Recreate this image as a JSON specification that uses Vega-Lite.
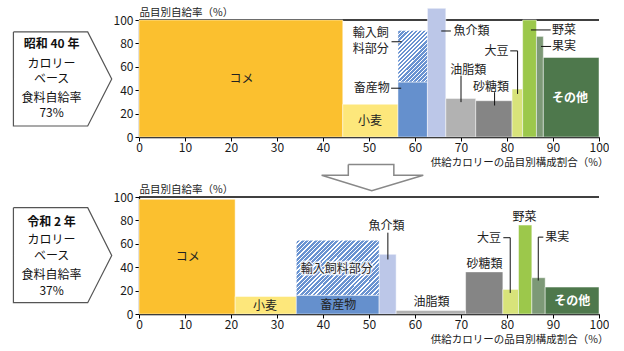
{
  "$schema": "https://vega.github.io/schema/vega-lite/v6.json",
  "background": "white",
  "padding": {"left": 11, "top": 7, "right": 0, "bottom": 0},
  "datasets": {
    "bars": [
      {"panel": "top", "item": "コメ", "x0": 0, "x1": 44.3, "y0": 0, "y1": 100},
      {"panel": "top", "item": "小麦", "x0": 44.3, "x1": 56.3, "y0": 0, "y1": 28},
      {"panel": "top", "item": "畜産物", "x0": 56.3, "x1": 62.7, "y0": 0, "y1": 47},
      {"panel": "top", "item": "輸入飼料", "x0": 56.3, "x1": 62.7, "y0": 47, "y1": 91},
      {"panel": "top", "item": "魚介類", "x0": 62.7, "x1": 66.7, "y0": 0, "y1": 110},
      {"panel": "top", "item": "油脂類", "x0": 66.7, "x1": 73.2, "y0": 0, "y1": 33},
      {"panel": "top", "item": "砂糖類", "x0": 73.2, "x1": 81.1, "y0": 0, "y1": 31},
      {"panel": "top", "item": "大豆", "x0": 81.1, "x1": 83.4, "y0": 0, "y1": 41},
      {"panel": "top", "item": "野菜", "x0": 83.4, "x1": 86.4, "y0": 0, "y1": 100},
      {"panel": "top", "item": "果実", "x0": 86.4, "x1": 87.9, "y0": 0, "y1": 86},
      {"panel": "top", "item": "その他", "x0": 87.9, "x1": 100, "y0": 0, "y1": 68},
      {"panel": "bottom", "item": "コメ", "x0": 0, "x1": 20.9, "y0": 0, "y1": 98},
      {"panel": "bottom", "item": "小麦", "x0": 20.9, "x1": 34.2, "y0": 0, "y1": 15},
      {"panel": "bottom", "item": "畜産物", "x0": 34.2, "x1": 52.2, "y0": 0, "y1": 16},
      {"panel": "bottom", "item": "輸入飼料", "x0": 34.2, "x1": 52.2, "y0": 16, "y1": 63},
      {"panel": "bottom", "item": "魚介類", "x0": 52.2, "x1": 55.9, "y0": 0, "y1": 51},
      {"panel": "bottom", "item": "油脂類", "x0": 55.9, "x1": 71.0, "y0": 0, "y1": 3},
      {"panel": "bottom", "item": "砂糖類", "x0": 71.0, "x1": 79.1, "y0": 0, "y1": 36},
      {"panel": "bottom", "item": "大豆", "x0": 79.1, "x1": 82.5, "y0": 0, "y1": 21},
      {"panel": "bottom", "item": "野菜", "x0": 82.5, "x1": 85.4, "y0": 0, "y1": 76},
      {"panel": "bottom", "item": "果実", "x0": 85.4, "x1": 88.3, "y0": 0, "y1": 31},
      {"panel": "bottom", "item": "その他", "x0": 88.3, "x1": 100, "y0": 0, "y1": 23}
    ],
    "labels": [
      {"panel": "top", "label": "コメ", "x": 22.3, "y": 49.6},
      {"panel": "top", "label": "小麦", "x": 50.2, "y": 13.3},
      {"panel": "top", "label": "畜産物", "x": 50.6, "y": 41.7},
      {"panel": "top", "label": "輸入飼", "x": 50.4, "y": 89.3},
      {"panel": "top", "label": "料部分", "x": 50.4, "y": 75.1},
      {"panel": "top", "label": "魚介類", "x": 72.3, "y": 90.6},
      {"panel": "top", "label": "油脂類", "x": 71.6, "y": 57.5},
      {"panel": "top", "label": "砂糖類", "x": 76.5, "y": 43},
      {"panel": "top", "label": "大豆", "x": 77.7, "y": 73.6},
      {"panel": "top", "label": "野菜", "x": 92.4, "y": 91.5},
      {"panel": "top", "label": "果実", "x": 92.4, "y": 77.4},
      {"panel": "top", "label": "その他", "x": 93.7, "y": 33.4},
      {"panel": "bottom", "label": "コメ", "x": 10.6, "y": 48.6},
      {"panel": "bottom", "label": "小麦", "x": 27.4, "y": 7.1},
      {"panel": "bottom", "label": "畜産物", "x": 43.3, "y": 7.4},
      {"panel": "bottom", "label": "輸入飼料部分", "x": 43, "y": 38.8},
      {"panel": "bottom", "label": "魚介類", "x": 53.8, "y": 75.1},
      {"panel": "bottom", "label": "油脂類", "x": 63.6, "y": 10},
      {"panel": "bottom", "label": "砂糖類", "x": 75.1, "y": 42.9},
      {"panel": "bottom", "label": "大豆", "x": 76.1, "y": 65.2},
      {"panel": "bottom", "label": "野菜", "x": 83.8, "y": 82.8},
      {"panel": "bottom", "label": "果実", "x": 90.9, "y": 65.7},
      {"panel": "bottom", "label": "その他", "x": 94.2, "y": 10.8}
    ],
    "leaders": [
      {"panel": "top", "id": "t1", "seq": 1, "x": 54.8, "y": 41.7},
      {"panel": "top", "id": "t1", "seq": 2, "x": 57.0, "y": 41.7},
      {"panel": "top", "id": "t2", "seq": 1, "x": 54.9, "y": 81.4},
      {"panel": "top", "id": "t2", "seq": 2, "x": 57.1, "y": 81.4},
      {"panel": "top", "id": "t3", "seq": 1, "x": 65.7, "y": 90.6},
      {"panel": "top", "id": "t3", "seq": 2, "x": 67.8, "y": 90.6},
      {"panel": "top", "id": "t4", "seq": 1, "x": 70.0, "y": 52.4},
      {"panel": "top", "id": "t4", "seq": 2, "x": 70.0, "y": 29.8},
      {"panel": "top", "id": "t5", "seq": 1, "x": 77.3, "y": 38.3},
      {"panel": "top", "id": "t5", "seq": 2, "x": 77.3, "y": 26.9},
      {"panel": "top", "id": "t6", "seq": 1, "x": 80.7, "y": 73.6},
      {"panel": "top", "id": "t6", "seq": 2, "x": 82.3, "y": 73.6},
      {"panel": "top", "id": "t6", "seq": 3, "x": 82.3, "y": 36.8},
      {"panel": "top", "id": "t7", "seq": 1, "x": 85.2, "y": 91.5},
      {"panel": "top", "id": "t7", "seq": 2, "x": 89.5, "y": 91.5},
      {"panel": "top", "id": "t8", "seq": 1, "x": 87.4, "y": 77.4},
      {"panel": "top", "id": "t8", "seq": 2, "x": 89.6, "y": 77.4},
      {"panel": "bottom", "id": "b1", "seq": 1, "x": 54.1, "y": 69.5},
      {"panel": "bottom", "id": "b1", "seq": 2, "x": 54.1, "y": 46.6},
      {"panel": "bottom", "id": "b2", "seq": 1, "x": 79.2, "y": 65.2},
      {"panel": "bottom", "id": "b2", "seq": 2, "x": 80.7, "y": 65.2},
      {"panel": "bottom", "id": "b2", "seq": 3, "x": 80.7, "y": 18},
      {"panel": "bottom", "id": "b3", "seq": 1, "x": 87.9, "y": 65.7},
      {"panel": "bottom", "id": "b3", "seq": 2, "x": 86.8, "y": 65.7},
      {"panel": "bottom", "id": "b3", "seq": 3, "x": 86.8, "y": 28.6}
    ],
    "boxes": [
      {"panel": "top", "seq": 1, "x": -27.3, "y": 89.8},
      {"panel": "top", "seq": 2, "x": -11.15, "y": 89.8},
      {"panel": "top", "seq": 3, "x": -5.93, "y": 49.6},
      {"panel": "top", "seq": 4, "x": -11.15, "y": 9.4},
      {"panel": "top", "seq": 5, "x": -27.3, "y": 9.4},
      {"panel": "top", "seq": 6, "x": -27.3, "y": 89.8},
      {"panel": "bottom", "seq": 1, "x": -27.3, "y": 90.9},
      {"panel": "bottom", "seq": 2, "x": -11.15, "y": 90.9},
      {"panel": "bottom", "seq": 3, "x": -5.93, "y": 50},
      {"panel": "bottom", "seq": 4, "x": -11.15, "y": 9.7},
      {"panel": "bottom", "seq": 5, "x": -27.3, "y": 9.7},
      {"panel": "bottom", "seq": 6, "x": -27.3, "y": 90.9}
    ],
    "boxtext": [
      {"panel": "top", "kind": "title", "text": "昭和 40 年", "x": -19, "y": 79.3},
      {"panel": "top", "kind": "body", "text": "カロリー", "x": -19, "y": 62.3},
      {"panel": "top", "kind": "body", "text": "ベース", "x": -19, "y": 49.6},
      {"panel": "top", "kind": "body", "text": "食料自給率", "x": -19, "y": 33.4},
      {"panel": "top", "kind": "body", "text": "73%", "x": -19, "y": 20.7},
      {"panel": "bottom", "kind": "title", "text": "令和 2 年", "x": -19, "y": 78.6},
      {"panel": "bottom", "kind": "body", "text": "カロリー", "x": -19, "y": 62.9},
      {"panel": "bottom", "kind": "body", "text": "ベース", "x": -19, "y": 50},
      {"panel": "bottom", "kind": "body", "text": "食料自給率", "x": -19, "y": 33.7},
      {"panel": "bottom", "kind": "body", "text": "37%", "x": -19, "y": 19.4}
    ],
    "arrow": [
      {"seq": 1, "x": 45.5, "y": -23.6},
      {"seq": 2, "x": 55.4, "y": -23.6},
      {"seq": 3, "x": 55.4, "y": -32.7},
      {"seq": 4, "x": 61.8, "y": -32.7},
      {"seq": 5, "x": 50.6, "y": -45.9},
      {"seq": 6, "x": 39.7, "y": -32.7},
      {"seq": 7, "x": 45.5, "y": -32.7},
      {"seq": 8, "x": 45.5, "y": -23.6}
    ]
  },
  "spacing": 60,
  "bounds": "flush",
  "vconcat": [
    {
      "width": 460,
      "height": 117,
      "layer": [
        {
          "data": {"values": [{}]},
          "mark": {"type": "rule", "color": "#000000", "strokeWidth": 1.3},
          "encoding": {"y": {"datum": 100, "type": "quantitative", "scale": {"domain": [0, 100], "nice": false}}}
        },
        {
          "data": {"name": "bars"},
          "transform": [{"filter": "datum.panel === 'top' && datum.item !== '輸入飼料'"}],
          "mark": {"type": "rect", "stroke": "#ffffff", "strokeWidth": 0.8, "strokeOpacity": 0.6},
          "encoding": {
            "x": {"field": "x0", "type": "quantitative", "scale": {"domain": [0, 100], "nice": false},
              "axis": {"values": [0, 10, 20, 30, 40, 50, 60, 70, 80, 90, 100], "tickCount": 11, "title": "供給カロリーの品目別構成割合（%）", "titleX": 469, "titleY": 25, "titleAlign": "right", "titleBaseline": "middle", "labelPadding": 1, "labelFlush": false, "labelOverlap": false}},
            "x2": {"field": "x1"},
            "y": {"field": "y1", "type": "quantitative", "scale": {"domain": [0, 100], "nice": false},
              "axis": {"values": [0, 20, 40, 60, 80, 100], "tickCount": 6, "title": "品目別自給率（%）", "titleAngle": 0, "titleX": 0, "titleY": -8, "titleAlign": "left", "titleBaseline": "middle", "labelPadding": 2, "labelFlush": false, "labelOverlap": false}},
            "y2": {"field": "y0"},
            "color": {"field": "item", "type": "nominal", "legend": null,
              "scale": {"domain": ["コメ", "小麦", "畜産物", "魚介類", "油脂類", "砂糖類", "大豆", "野菜", "果実", "その他"],
                "range": ["#FBC02F", "#FDE77B", "#6590CD", "#BCC7E8", "#B2B2B2", "#858585", "#D8E37A", "#9CC84B", "#7D9977", "#4E784C"]}}
          }
        },
        {
          "data": {"name": "bars"},
          "transform": [{"filter": "datum.panel === 'top' && datum.item === '輸入飼料'"}],
          "mark": {"type": "rect", "stroke": "#ffffff", "strokeWidth": 0.8, "strokeOpacity": 0.6,
            "fill": {"gradient": "linear", "x1": 0, "y1": 0, "x2": 0.674, "y2": 1.185, "stops": [
              {"offset": 0, "color": "#ffffff"}, {"offset": 0.017, "color": "#ffffff"}, {"offset": 0.017, "color": "#6A93D1"}, {"offset": 0.05, "color": "#6A93D1"},
              {"offset": 0.05, "color": "#ffffff"}, {"offset": 0.067, "color": "#ffffff"}, {"offset": 0.067, "color": "#6A93D1"}, {"offset": 0.1, "color": "#6A93D1"},
              {"offset": 0.1, "color": "#ffffff"}, {"offset": 0.117, "color": "#ffffff"}, {"offset": 0.117, "color": "#6A93D1"}, {"offset": 0.15, "color": "#6A93D1"},
              {"offset": 0.15, "color": "#ffffff"}, {"offset": 0.167, "color": "#ffffff"}, {"offset": 0.167, "color": "#6A93D1"}, {"offset": 0.2, "color": "#6A93D1"},
              {"offset": 0.2, "color": "#ffffff"}, {"offset": 0.217, "color": "#ffffff"}, {"offset": 0.217, "color": "#6A93D1"}, {"offset": 0.25, "color": "#6A93D1"},
              {"offset": 0.25, "color": "#ffffff"}, {"offset": 0.267, "color": "#ffffff"}, {"offset": 0.267, "color": "#6A93D1"}, {"offset": 0.3, "color": "#6A93D1"},
              {"offset": 0.3, "color": "#ffffff"}, {"offset": 0.317, "color": "#ffffff"}, {"offset": 0.317, "color": "#6A93D1"}, {"offset": 0.35, "color": "#6A93D1"},
              {"offset": 0.35, "color": "#ffffff"}, {"offset": 0.367, "color": "#ffffff"}, {"offset": 0.367, "color": "#6A93D1"}, {"offset": 0.4, "color": "#6A93D1"},
              {"offset": 0.4, "color": "#ffffff"}, {"offset": 0.417, "color": "#ffffff"}, {"offset": 0.417, "color": "#6A93D1"}, {"offset": 0.45, "color": "#6A93D1"},
              {"offset": 0.45, "color": "#ffffff"}, {"offset": 0.467, "color": "#ffffff"}, {"offset": 0.467, "color": "#6A93D1"}, {"offset": 0.5, "color": "#6A93D1"},
              {"offset": 0.5, "color": "#ffffff"}, {"offset": 0.517, "color": "#ffffff"}, {"offset": 0.517, "color": "#6A93D1"}, {"offset": 0.55, "color": "#6A93D1"},
              {"offset": 0.55, "color": "#ffffff"}, {"offset": 0.567, "color": "#ffffff"}, {"offset": 0.567, "color": "#6A93D1"}, {"offset": 0.6, "color": "#6A93D1"},
              {"offset": 0.6, "color": "#ffffff"}, {"offset": 0.617, "color": "#ffffff"}, {"offset": 0.617, "color": "#6A93D1"}, {"offset": 0.65, "color": "#6A93D1"},
              {"offset": 0.65, "color": "#ffffff"}, {"offset": 0.667, "color": "#ffffff"}, {"offset": 0.667, "color": "#6A93D1"}, {"offset": 0.7, "color": "#6A93D1"},
              {"offset": 0.7, "color": "#ffffff"}, {"offset": 0.717, "color": "#ffffff"}, {"offset": 0.717, "color": "#6A93D1"}, {"offset": 0.75, "color": "#6A93D1"},
              {"offset": 0.75, "color": "#ffffff"}, {"offset": 0.767, "color": "#ffffff"}, {"offset": 0.767, "color": "#6A93D1"}, {"offset": 0.8, "color": "#6A93D1"},
              {"offset": 0.8, "color": "#ffffff"}, {"offset": 0.817, "color": "#ffffff"}, {"offset": 0.817, "color": "#6A93D1"}, {"offset": 0.85, "color": "#6A93D1"},
              {"offset": 0.85, "color": "#ffffff"}, {"offset": 0.867, "color": "#ffffff"}, {"offset": 0.867, "color": "#6A93D1"}, {"offset": 0.9, "color": "#6A93D1"},
              {"offset": 0.9, "color": "#ffffff"}, {"offset": 0.917, "color": "#ffffff"}, {"offset": 0.917, "color": "#6A93D1"}, {"offset": 0.95, "color": "#6A93D1"},
              {"offset": 0.95, "color": "#ffffff"}, {"offset": 0.967, "color": "#ffffff"}, {"offset": 0.967, "color": "#6A93D1"}, {"offset": 1, "color": "#6A93D1"}
            ]}},
          "encoding": {
            "x": {"field": "x0", "type": "quantitative", "scale": {"domain": [0, 100], "nice": false}},
            "x2": {"field": "x1"},
            "y": {"field": "y1", "type": "quantitative", "scale": {"domain": [0, 100], "nice": false}},
            "y2": {"field": "y0"}
          }
        },
        {
          "data": {"name": "leaders"},
          "transform": [{"filter": "datum.panel === 'top'"}],
          "mark": {"type": "line", "color": "#111111", "strokeWidth": 1},
          "encoding": {
            "x": {"field": "x", "type": "quantitative", "scale": {"domain": [0, 100], "nice": false}},
            "y": {"field": "y", "type": "quantitative", "scale": {"domain": [0, 100], "nice": false}},
            "detail": {"field": "id"},
            "order": {"field": "seq", "type": "quantitative"}
          }
        },
        {
          "data": {"name": "labels"},
          "transform": [{"filter": "datum.panel === 'top' && datum.label !== 'その他'"}],
          "mark": {"type": "text", "fontSize": 12, "color": "#222222", "align": "center", "baseline": "middle"},
          "encoding": {
            "x": {"field": "x", "type": "quantitative", "scale": {"domain": [0, 100], "nice": false}},
            "y": {"field": "y", "type": "quantitative", "scale": {"domain": [0, 100], "nice": false}},
            "text": {"field": "label"}
          }
        },
        {
          "data": {"name": "labels"},
          "transform": [{"filter": "datum.panel === 'top' && datum.label === 'その他'"}],
          "mark": {"type": "text", "fontSize": 12, "fontWeight": "bold", "color": "#ffffff", "align": "center", "baseline": "middle"},
          "encoding": {
            "x": {"field": "x", "type": "quantitative", "scale": {"domain": [0, 100], "nice": false}},
            "y": {"field": "y", "type": "quantitative", "scale": {"domain": [0, 100], "nice": false}},
            "text": {"field": "label"}
          }
        },
        {
          "data": {"name": "boxes"},
          "transform": [{"filter": "datum.panel === 'top'"}],
          "mark": {"type": "line", "color": "#555555", "strokeWidth": 1.2},
          "encoding": {
            "x": {"field": "x", "type": "quantitative", "scale": {"domain": [0, 100], "nice": false}},
            "y": {"field": "y", "type": "quantitative", "scale": {"domain": [0, 100], "nice": false}},
            "order": {"field": "seq", "type": "quantitative"}
          }
        },
        {
          "data": {"name": "boxtext"},
          "transform": [{"filter": "datum.panel === 'top' && datum.kind === 'title'"}],
          "mark": {"type": "text", "fontSize": 12, "fontWeight": "bold", "color": "#111111", "align": "center", "baseline": "middle"},
          "encoding": {
            "x": {"field": "x", "type": "quantitative", "scale": {"domain": [0, 100], "nice": false}},
            "y": {"field": "y", "type": "quantitative", "scale": {"domain": [0, 100], "nice": false}},
            "text": {"field": "text"}
          }
        },
        {
          "data": {"name": "boxtext"},
          "transform": [{"filter": "datum.panel === 'top' && datum.kind === 'body'"}],
          "mark": {"type": "text", "fontSize": 12, "color": "#111111", "align": "center", "baseline": "middle"},
          "encoding": {
            "x": {"field": "x", "type": "quantitative", "scale": {"domain": [0, 100], "nice": false}},
            "y": {"field": "y", "type": "quantitative", "scale": {"domain": [0, 100], "nice": false}},
            "text": {"field": "text"}
          }
        },
        {
          "data": {"name": "arrow"},
          "mark": {"type": "line", "color": "#888888", "strokeWidth": 1.5},
          "encoding": {
            "x": {"field": "x", "type": "quantitative", "scale": {"domain": [0, 100], "nice": false}},
            "y": {"field": "y", "type": "quantitative", "scale": {"domain": [0, 100], "nice": false}},
            "order": {"field": "seq", "type": "quantitative"}
          }
        }
      ]
    },
    {
      "width": 460,
      "height": 117,
      "layer": [
        {
          "data": {"values": [{}]},
          "mark": {"type": "rule", "color": "#000000", "strokeWidth": 1.3},
          "encoding": {"y": {"datum": 100, "type": "quantitative", "scale": {"domain": [0, 100], "nice": false}}}
        },
        {
          "data": {"name": "bars"},
          "transform": [{"filter": "datum.panel === 'bottom' && datum.item !== '輸入飼料'"}],
          "mark": {"type": "rect", "stroke": "#ffffff", "strokeWidth": 0.8, "strokeOpacity": 0.6},
          "encoding": {
            "x": {"field": "x0", "type": "quantitative", "scale": {"domain": [0, 100], "nice": false},
              "axis": {"values": [0, 10, 20, 30, 40, 50, 60, 70, 80, 90, 100], "tickCount": 11, "title": "供給カロリーの品目別構成割合（%）", "titleX": 469, "titleY": 25, "titleAlign": "right", "titleBaseline": "middle", "labelPadding": 1, "labelFlush": false, "labelOverlap": false}},
            "x2": {"field": "x1"},
            "y": {"field": "y1", "type": "quantitative", "scale": {"domain": [0, 100], "nice": false},
              "axis": {"values": [0, 20, 40, 60, 80, 100], "tickCount": 6, "title": "品目別自給率（%）", "titleAngle": 0, "titleX": 0, "titleY": -8, "titleAlign": "left", "titleBaseline": "middle", "labelPadding": 2, "labelFlush": false, "labelOverlap": false}},
            "y2": {"field": "y0"},
            "color": {"field": "item", "type": "nominal", "legend": null,
              "scale": {"domain": ["コメ", "小麦", "畜産物", "魚介類", "油脂類", "砂糖類", "大豆", "野菜", "果実", "その他"],
                "range": ["#FBC02F", "#FDE77B", "#6590CD", "#BCC7E8", "#B2B2B2", "#858585", "#D8E37A", "#9CC84B", "#7D9977", "#4E784C"]}}
          }
        },
        {
          "data": {"name": "bars"},
          "transform": [{"filter": "datum.panel === 'bottom' && datum.item === '輸入飼料'"}],
          "mark": {"type": "rect", "stroke": "#ffffff", "strokeWidth": 0.8, "strokeOpacity": 0.6,
            "fill": {"gradient": "linear", "x1": 0, "y1": 0, "x2": 1.156, "y2": 0.765, "stops": [
              {"offset": 0, "color": "#ffffff"}, {"offset": 0.0103, "color": "#ffffff"}, {"offset": 0.0103, "color": "#6A93D1"}, {"offset": 0.03125, "color": "#6A93D1"},
              {"offset": 0.03125, "color": "#ffffff"}, {"offset": 0.04155, "color": "#ffffff"}, {"offset": 0.04155, "color": "#6A93D1"}, {"offset": 0.0625, "color": "#6A93D1"},
              {"offset": 0.0625, "color": "#ffffff"}, {"offset": 0.0728, "color": "#ffffff"}, {"offset": 0.0728, "color": "#6A93D1"}, {"offset": 0.09375, "color": "#6A93D1"},
              {"offset": 0.09375, "color": "#ffffff"}, {"offset": 0.10405, "color": "#ffffff"}, {"offset": 0.10405, "color": "#6A93D1"}, {"offset": 0.125, "color": "#6A93D1"},
              {"offset": 0.125, "color": "#ffffff"}, {"offset": 0.1353, "color": "#ffffff"}, {"offset": 0.1353, "color": "#6A93D1"}, {"offset": 0.15625, "color": "#6A93D1"},
              {"offset": 0.15625, "color": "#ffffff"}, {"offset": 0.16655, "color": "#ffffff"}, {"offset": 0.16655, "color": "#6A93D1"}, {"offset": 0.1875, "color": "#6A93D1"},
              {"offset": 0.1875, "color": "#ffffff"}, {"offset": 0.1978, "color": "#ffffff"}, {"offset": 0.1978, "color": "#6A93D1"}, {"offset": 0.21875, "color": "#6A93D1"},
              {"offset": 0.21875, "color": "#ffffff"}, {"offset": 0.22905, "color": "#ffffff"}, {"offset": 0.22905, "color": "#6A93D1"}, {"offset": 0.25, "color": "#6A93D1"},
              {"offset": 0.25, "color": "#ffffff"}, {"offset": 0.2603, "color": "#ffffff"}, {"offset": 0.2603, "color": "#6A93D1"}, {"offset": 0.28125, "color": "#6A93D1"},
              {"offset": 0.28125, "color": "#ffffff"}, {"offset": 0.29155, "color": "#ffffff"}, {"offset": 0.29155, "color": "#6A93D1"}, {"offset": 0.3125, "color": "#6A93D1"},
              {"offset": 0.3125, "color": "#ffffff"}, {"offset": 0.3228, "color": "#ffffff"}, {"offset": 0.3228, "color": "#6A93D1"}, {"offset": 0.34375, "color": "#6A93D1"},
              {"offset": 0.34375, "color": "#ffffff"}, {"offset": 0.35405, "color": "#ffffff"}, {"offset": 0.35405, "color": "#6A93D1"}, {"offset": 0.375, "color": "#6A93D1"},
              {"offset": 0.375, "color": "#ffffff"}, {"offset": 0.3853, "color": "#ffffff"}, {"offset": 0.3853, "color": "#6A93D1"}, {"offset": 0.40625, "color": "#6A93D1"},
              {"offset": 0.40625, "color": "#ffffff"}, {"offset": 0.41655, "color": "#ffffff"}, {"offset": 0.41655, "color": "#6A93D1"}, {"offset": 0.4375, "color": "#6A93D1"},
              {"offset": 0.4375, "color": "#ffffff"}, {"offset": 0.4478, "color": "#ffffff"}, {"offset": 0.4478, "color": "#6A93D1"}, {"offset": 0.46875, "color": "#6A93D1"},
              {"offset": 0.46875, "color": "#ffffff"}, {"offset": 0.47905, "color": "#ffffff"}, {"offset": 0.47905, "color": "#6A93D1"}, {"offset": 0.5, "color": "#6A93D1"},
              {"offset": 0.5, "color": "#ffffff"}, {"offset": 0.5103, "color": "#ffffff"}, {"offset": 0.5103, "color": "#6A93D1"}, {"offset": 0.53125, "color": "#6A93D1"},
              {"offset": 0.53125, "color": "#ffffff"}, {"offset": 0.54155, "color": "#ffffff"}, {"offset": 0.54155, "color": "#6A93D1"}, {"offset": 0.5625, "color": "#6A93D1"},
              {"offset": 0.5625, "color": "#ffffff"}, {"offset": 0.5728, "color": "#ffffff"}, {"offset": 0.5728, "color": "#6A93D1"}, {"offset": 0.59375, "color": "#6A93D1"},
              {"offset": 0.59375, "color": "#ffffff"}, {"offset": 0.60405, "color": "#ffffff"}, {"offset": 0.60405, "color": "#6A93D1"}, {"offset": 0.625, "color": "#6A93D1"},
              {"offset": 0.625, "color": "#ffffff"}, {"offset": 0.6353, "color": "#ffffff"}, {"offset": 0.6353, "color": "#6A93D1"}, {"offset": 0.65625, "color": "#6A93D1"},
              {"offset": 0.65625, "color": "#ffffff"}, {"offset": 0.66655, "color": "#ffffff"}, {"offset": 0.66655, "color": "#6A93D1"}, {"offset": 0.6875, "color": "#6A93D1"},
              {"offset": 0.6875, "color": "#ffffff"}, {"offset": 0.6978, "color": "#ffffff"}, {"offset": 0.6978, "color": "#6A93D1"}, {"offset": 0.71875, "color": "#6A93D1"},
              {"offset": 0.71875, "color": "#ffffff"}, {"offset": 0.72905, "color": "#ffffff"}, {"offset": 0.72905, "color": "#6A93D1"}, {"offset": 0.75, "color": "#6A93D1"},
              {"offset": 0.75, "color": "#ffffff"}, {"offset": 0.7603, "color": "#ffffff"}, {"offset": 0.7603, "color": "#6A93D1"}, {"offset": 0.78125, "color": "#6A93D1"},
              {"offset": 0.78125, "color": "#ffffff"}, {"offset": 0.79155, "color": "#ffffff"}, {"offset": 0.79155, "color": "#6A93D1"}, {"offset": 0.8125, "color": "#6A93D1"},
              {"offset": 0.8125, "color": "#ffffff"}, {"offset": 0.8228, "color": "#ffffff"}, {"offset": 0.8228, "color": "#6A93D1"}, {"offset": 0.84375, "color": "#6A93D1"},
              {"offset": 0.84375, "color": "#ffffff"}, {"offset": 0.85405, "color": "#ffffff"}, {"offset": 0.85405, "color": "#6A93D1"}, {"offset": 0.875, "color": "#6A93D1"},
              {"offset": 0.875, "color": "#ffffff"}, {"offset": 0.8853, "color": "#ffffff"}, {"offset": 0.8853, "color": "#6A93D1"}, {"offset": 0.90625, "color": "#6A93D1"},
              {"offset": 0.90625, "color": "#ffffff"}, {"offset": 0.91655, "color": "#ffffff"}, {"offset": 0.91655, "color": "#6A93D1"}, {"offset": 0.9375, "color": "#6A93D1"},
              {"offset": 0.9375, "color": "#ffffff"}, {"offset": 0.9478, "color": "#ffffff"}, {"offset": 0.9478, "color": "#6A93D1"}, {"offset": 0.96875, "color": "#6A93D1"},
              {"offset": 0.96875, "color": "#ffffff"}, {"offset": 0.97905, "color": "#ffffff"}, {"offset": 0.97905, "color": "#6A93D1"}, {"offset": 1, "color": "#6A93D1"}
            ]}},
          "encoding": {
            "x": {"field": "x0", "type": "quantitative", "scale": {"domain": [0, 100], "nice": false}},
            "x2": {"field": "x1"},
            "y": {"field": "y1", "type": "quantitative", "scale": {"domain": [0, 100], "nice": false}},
            "y2": {"field": "y0"}
          }
        },
        {
          "data": {"name": "leaders"},
          "transform": [{"filter": "datum.panel === 'bottom'"}],
          "mark": {"type": "line", "color": "#111111", "strokeWidth": 1},
          "encoding": {
            "x": {"field": "x", "type": "quantitative", "scale": {"domain": [0, 100], "nice": false}},
            "y": {"field": "y", "type": "quantitative", "scale": {"domain": [0, 100], "nice": false}},
            "detail": {"field": "id"},
            "order": {"field": "seq", "type": "quantitative"}
          }
        },
        {
          "data": {"name": "labels"},
          "transform": [{"filter": "datum.panel === 'bottom' && datum.label === '輸入飼料部分'"}],
          "mark": {"type": "text", "fontSize": 12, "color": "#ffffff", "stroke": "#ffffff", "strokeWidth": 3, "strokeOpacity": 0.8, "align": "center", "baseline": "middle"},
          "encoding": {
            "x": {"field": "x", "type": "quantitative", "scale": {"domain": [0, 100], "nice": false}},
            "y": {"field": "y", "type": "quantitative", "scale": {"domain": [0, 100], "nice": false}},
            "text": {"field": "label"}
          }
        },
        {
          "data": {"name": "labels"},
          "transform": [{"filter": "datum.panel === 'bottom' && datum.label !== 'その他'"}],
          "mark": {"type": "text", "fontSize": 12, "color": "#222222", "align": "center", "baseline": "middle"},
          "encoding": {
            "x": {"field": "x", "type": "quantitative", "scale": {"domain": [0, 100], "nice": false}},
            "y": {"field": "y", "type": "quantitative", "scale": {"domain": [0, 100], "nice": false}},
            "text": {"field": "label"}
          }
        },
        {
          "data": {"name": "labels"},
          "transform": [{"filter": "datum.panel === 'bottom' && datum.label === 'その他'"}],
          "mark": {"type": "text", "fontSize": 12, "fontWeight": "bold", "color": "#ffffff", "align": "center", "baseline": "middle"},
          "encoding": {
            "x": {"field": "x", "type": "quantitative", "scale": {"domain": [0, 100], "nice": false}},
            "y": {"field": "y", "type": "quantitative", "scale": {"domain": [0, 100], "nice": false}},
            "text": {"field": "label"}
          }
        },
        {
          "data": {"name": "boxes"},
          "transform": [{"filter": "datum.panel === 'bottom'"}],
          "mark": {"type": "line", "color": "#555555", "strokeWidth": 1.2},
          "encoding": {
            "x": {"field": "x", "type": "quantitative", "scale": {"domain": [0, 100], "nice": false}},
            "y": {"field": "y", "type": "quantitative", "scale": {"domain": [0, 100], "nice": false}},
            "order": {"field": "seq", "type": "quantitative"}
          }
        },
        {
          "data": {"name": "boxtext"},
          "transform": [{"filter": "datum.panel === 'bottom' && datum.kind === 'title'"}],
          "mark": {"type": "text", "fontSize": 12, "fontWeight": "bold", "color": "#111111", "align": "center", "baseline": "middle"},
          "encoding": {
            "x": {"field": "x", "type": "quantitative", "scale": {"domain": [0, 100], "nice": false}},
            "y": {"field": "y", "type": "quantitative", "scale": {"domain": [0, 100], "nice": false}},
            "text": {"field": "text"}
          }
        },
        {
          "data": {"name": "boxtext"},
          "transform": [{"filter": "datum.panel === 'bottom' && datum.kind === 'body'"}],
          "mark": {"type": "text", "fontSize": 12, "color": "#111111", "align": "center", "baseline": "middle"},
          "encoding": {
            "x": {"field": "x", "type": "quantitative", "scale": {"domain": [0, 100], "nice": false}},
            "y": {"field": "y", "type": "quantitative", "scale": {"domain": [0, 100], "nice": false}},
            "text": {"field": "text"}
          }
        }
      ]
    }
  ],
  "config": {
    "font": "Noto Sans CJK JP",
    "view": {"stroke": null},
    "axis": {
      "grid": false,
      "domainColor": "#000000",
      "domainWidth": 1.3,
      "tickColor": "#000000",
      "tickSize": 4,
      "labelFontSize": 12,
      "labelColor": "#1a1a1a",
      "labelOverlap": false,
      "titleFontSize": 10.5,
      "titleFontWeight": "normal",
      "titleColor": "#1a1a1a"
    }
  }
}
